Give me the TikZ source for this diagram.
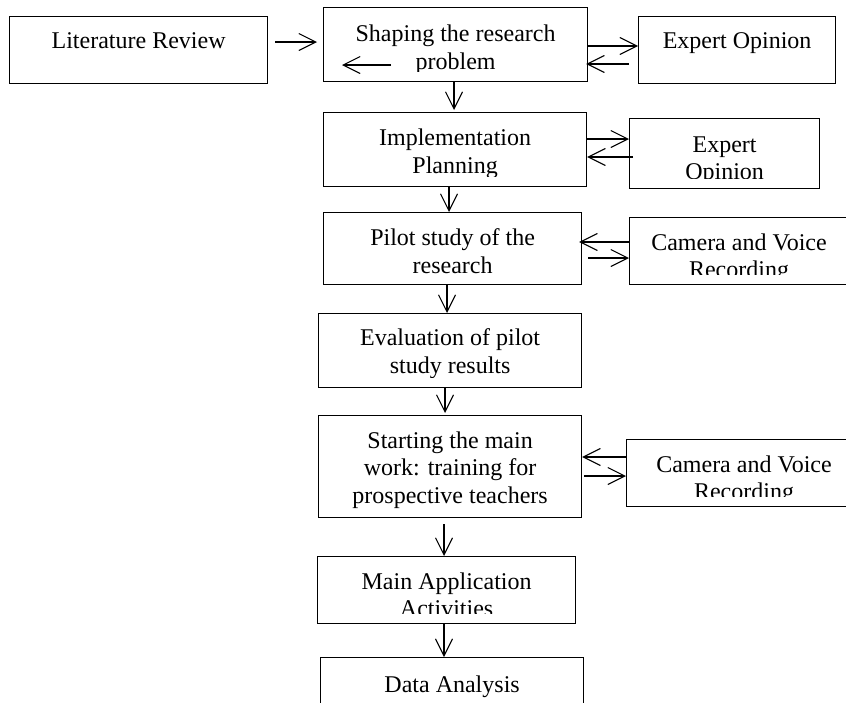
\documentclass[tikz,border=0pt]{standalone}
\usepackage{fontspec}
\setmainfont{Liberation Serif}
\usetikzlibrary{arrows.meta}
\newcommand\txtsize{\fontsize{24}{27.6}\selectfont}
\begin{document}
\begin{tikzpicture}[x=1pt,y=-1pt,
  box/.style={draw, line width=1.2pt, inner sep=0pt, anchor=north west},
  lbl/.style={inner sep=0pt, anchor=base, font=\txtsize},
  arr/.style={line width=1.1pt, -{Straight Barb[length=17pt,width=17pt]}}]
\useasboundingbox (0,0) rectangle (846,702);
\fill[white] (0,0) rectangle (846,702);
\clip (0,0) rectangle (846,702);

% boxes
\node[box, minimum width=258pt, minimum height=67pt] (lit)   at (9,16)    {};
\node[box, minimum width=264pt, minimum height=74pt] (shape) at (323,7)   {};
\node[box, minimum width=197pt, minimum height=67pt] (exp1)  at (638,16)  {};
\node[box, minimum width=263pt, minimum height=74pt] (impl)  at (323,112) {};
\node[box, minimum width=190pt, minimum height=70pt] (exp2)  at (629,118) {};
\node[box, minimum width=258pt, minimum height=72pt] (pilot) at (323,212) {};
\node[box, minimum width=240pt, minimum height=67pt] (cam1)  at (629,217) {};
\node[box, minimum width=263pt, minimum height=74pt] (eval)  at (318,313) {};
\node[box, minimum width=263pt, minimum height=102pt] (start) at (318,415) {};
\node[box, minimum width=240pt, minimum height=67pt] (cam2)  at (626,439) {};
\node[box, minimum width=258pt, minimum height=67pt] (main)  at (317,556) {};
\node[box, minimum width=263pt, minimum height=80pt] (data)  at (320,657) {};

% texts
\node[lbl] (lit-t) at ([yshift=-32pt]lit.north) {Literature Review};
\node[lbl] (shape-t1) at ([yshift=-34pt]shape.north) {Shaping the research};
\begin{scope}
  \clip (shape.north west) rectangle ([yshift=10.5pt]shape.south east);
  \node[lbl] (shape-t2) at ([yshift=-62pt]shape.north) {problem};
\end{scope}
\node[lbl] (exp1-t) at ([yshift=-32pt]exp1.north) {Expert Opinion};
\node[lbl] (impl-t1) at ([yshift=-33pt]impl.north) {Implementation};
\begin{scope}
  \clip (impl.north west) rectangle ([yshift=10.5pt]impl.south east);
  \node[lbl] (impl-t2) at ([yshift=-61pt]impl.north) {Planning};
\end{scope}
\node[lbl] (exp2-t1) at ([yshift=-34pt]exp2.north) {Expert};
\begin{scope}
  \clip (exp2.north west) rectangle ([yshift=10.5pt]exp2.south east);
  \node[lbl] (exp2-t2) at ([yshift=-61.6pt]exp2.north) {Opinion};
\end{scope}
\node[lbl] (pilot-t1) at ([yshift=-33pt]pilot.north) {Pilot study of the};
\node[lbl] (pilot-t2) at ([yshift=-61pt]pilot.north) {research};
\node[lbl] (cam1-t1) at ([xshift=110pt,yshift=-33pt]cam1.north west) {Camera and Voice};
\begin{scope}
  \clip (cam1.north west) rectangle ([yshift=10.5pt]cam1.south east);
  \node[lbl] (cam1-t2) at ([xshift=110pt,yshift=-60.6pt]cam1.north west) {Recording};
\end{scope}
\node[lbl] (eval-t1) at ([yshift=-32pt]eval.north) {Evaluation of pilot};
\begin{scope}
  \clip (eval.north west) rectangle ([yshift=11pt]eval.south east);
  \node[lbl] (eval-t2) at ([yshift=-60pt]eval.north) {study results};
\end{scope}
\node[lbl] (start-t1) at ([yshift=-33pt]start.north) {Starting the main};
\node[lbl] (start-t2) at ([yshift=-60.6pt]start.north) {work: training for};
\node[lbl] (start-t3) at ([yshift=-88.2pt]start.north) {prospective teachers};
\node[lbl] (cam2-t1) at ([xshift=118pt,yshift=-33pt]cam2.north west) {Camera and Voice};
\begin{scope}
  \clip (cam2.north west) rectangle ([yshift=10.5pt]cam2.south east);
  \node[lbl] (cam2-t2) at ([xshift=118pt,yshift=-60.6pt]cam2.north west) {Recording};
\end{scope}
\node[lbl] (main-t1) at ([yshift=-33pt]main.north) {Main Application};
\begin{scope}
  \clip (main.north west) rectangle ([yshift=10.5pt]main.south east);
  \node[lbl] (main-t2) at ([yshift=-60.6pt]main.north) {Activities};
\end{scope}
\node[lbl] (data-t) at ([yshift=-35pt]data.north) {Data Analysis};

% levels for connectors
\coordinate (h1) at (0,42);
\coordinate (h2) at (0,46);
\coordinate (h3) at (0,64);
\coordinate (h4) at (0,139);
\coordinate (h5) at (0,157);
\coordinate (h6) at (0,242);
\coordinate (h7) at (0,258);
\coordinate (h8) at (0,457);
\coordinate (h9) at (0,476);
\coordinate (v1) at (454,0);
\coordinate (v2) at (449,0);
\coordinate (v3) at (447,0);
\coordinate (v4) at (445,0);
\coordinate (v5) at (444,0);
\coordinate (sbA) at (391,65);
\coordinate (sbB) at (342,65);

% horizontal connectors
\draw[arr, shorten <=7pt, shorten >=6pt] (lit.east |- h1) -- (shape.west |- h1);
\draw[arr] (sbA) -- (sbB);
\draw[arr] (shape.east |- h2) -- (exp1.west |- h2);
\draw[arr, shorten <=9pt, shorten >=-2pt] (exp1.west |- h3) -- (shape.east |- h3);
\draw[arr] (impl.east |- h4) -- (exp2.west |- h4);
\draw[arr, shorten <=-4pt] (exp2.west |- h5) -- (impl.east |- h5);
\draw[arr, shorten >=-3pt] (cam1.west |- h6) -- (pilot.east |- h6);
\draw[arr, shorten <=6pt] (pilot.east |- h7) -- (cam1.west |- h7);
\draw[arr] (cam2.west |- h8) -- (start.east |- h8);
\draw[arr, shorten <=2pt] (start.east |- h9) -- (cam2.west |- h9);

% vertical connectors
\draw[arr, shorten >=2pt] (shape.south -| v1) -- (impl.north -| v1);
\draw[arr] (impl.south -| v2) -- (pilot.north -| v2);
\draw[arr] (pilot.south -| v3) -- (eval.north -| v3);
\draw[arr, shorten >=2pt] (eval.south -| v4) -- (start.north -| v4);
\draw[arr, shorten <=6pt] (start.south -| v5) -- (main.north -| v5);
\draw[arr] (main.south -| v5) -- (data.north -| v5);
\end{tikzpicture}
\end{document}
